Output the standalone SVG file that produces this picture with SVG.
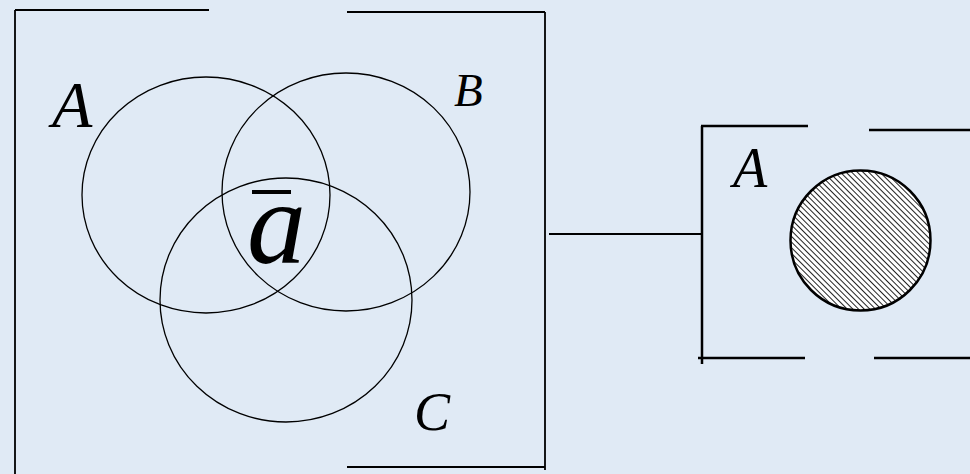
<svg xmlns="http://www.w3.org/2000/svg" width="970" height="474" viewBox="0 0 970 474">
<style>
.frame{stroke:#000;stroke-width:1.8;fill:none}
.frame2{stroke:#000;stroke-width:2.5;fill:none}
.set{stroke:#000;stroke-width:1.3;fill:none}
.lbl{font-family:"Liberation Serif",serif;font-style:italic;fill:#000}
</style>
<defs>
<pattern id="hatch" patternUnits="userSpaceOnUse" width="4" height="4" patternTransform="rotate(-45)">
<rect width="4" height="4" fill="#fff"/>
<line x1="0" y1="0" x2="0" y2="4" stroke="#222" stroke-width="2"/>
</pattern>
</defs>
<rect width="970" height="474" fill="#e0eaf5"/>
<g id="venn-box">
<path class="frame" d="M15 10 V474 M15 10 H209 M347 12 H545 M545 12 V470 M347 467 H545"/>
<ellipse id="setA" class="set" cx="206" cy="195" rx="124" ry="118"/>
<ellipse id="setB" class="set" cx="346" cy="192" rx="124" ry="119"/>
<ellipse id="setC" class="set" cx="286" cy="300" rx="126" ry="122"/>
<text class="lbl" x="52" y="127" font-size="66">A</text>
<text class="lbl" x="454" y="106" font-size="47">B</text>
<text class="lbl" x="414" y="430" font-size="54">C</text>
<text class="lbl" x="247" y="263" font-size="118">a</text>
<line x1="252" y1="192" x2="291" y2="192" stroke="#000" stroke-width="4"/>
</g>
<g id="connectors">
<line x1="549" y1="234" x2="701" y2="234" stroke="#000" stroke-width="1.8"/>
</g>
<g id="result-box">
<path class="frame2" d="M702 126 V364 M701 126 H808 M869 130 H970 M698 358 H805 M874 358 H970"/>
<text class="lbl" x="733" y="187" font-size="56">A</text>
<circle cx="860.5" cy="240.5" r="70" fill="url(#hatch)" stroke="#000" stroke-width="2.5"/>
</g>
</svg>
